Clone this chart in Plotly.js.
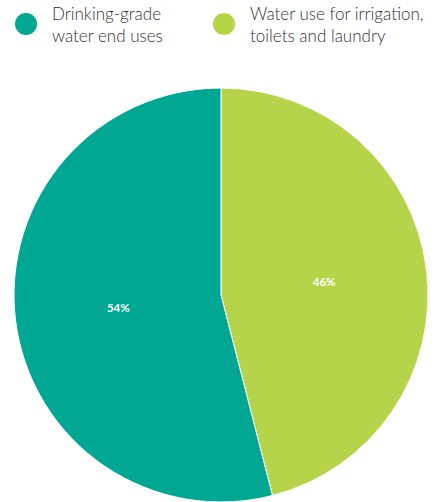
<!DOCTYPE html>
<html><head><meta charset="utf-8">
<script src="https://cdn.plot.ly/plotly-3.0.1.min.js"></script>
<style>html,body{margin:0;padding:0;background:#fff}#chart{width:435px;height:502px}</style>
</head><body><div id="chart"></div>
<script>
const labels = ["Drinking-grade<br>water end uses", "Water use for irrigation,<br>toilets and laundry"];
const values = [54, 46];
const colors = ["#00a894", "#b5d44a"];

const W = 435, H = 502;
const legendX = [26, 224];
const shapes = [], annotations = [];
labels.forEach((l, i) => {
  const cx = legendX[i], cy = 24, r = 11;
  shapes.push({type: "circle", xref: "paper", yref: "paper",
    x0: (cx - r) / W, x1: (cx + r) / W, y0: 1 - (cy + r) / H, y1: 1 - (cy - r) / H,
    fillcolor: colors[i], line: {width: 0}});
  annotations.push({text: l, xref: "paper", yref: "paper", x: (cx + 24) / W, y: 1 - 25 / H,
    xanchor: "left", yanchor: "middle", align: "left", showarrow: false,
    font: {family: "Lato, sans-serif", size: 17, color: "#333333", weight: 300}});
});

// pie drawn clockwise from 12 o'clock: second series first so the first ends up on the left
const order = [1, 0];
Plotly.newPlot("chart", [{
  type: "pie", labels: order.map(i => labels[i]), values: order.map(i => values[i]),
  sort: false, direction: "clockwise",
  marker: {colors: order.map(i => colors[i]), line: {color: "#ffffff", width: 1}},
  textinfo: "percent", textposition: "inside",
  textfont: {family: "Lato, sans-serif", size: 11.5, color: "#ffffff", weight: "bold"},
  insidetextorientation: "horizontal",
  domain: {x: [14 / W, 428 / W], y: [0, 1 - 88 / H]},
  hoverinfo: "none"
}], {
  width: W, height: H, margin: {l: 0, r: 0, t: 0, b: 0},
  showlegend: false, paper_bgcolor: "#fff",
  shapes: shapes, annotations: annotations
}, {displayModeBar: false, staticPlot: true});
</script></body></html>
